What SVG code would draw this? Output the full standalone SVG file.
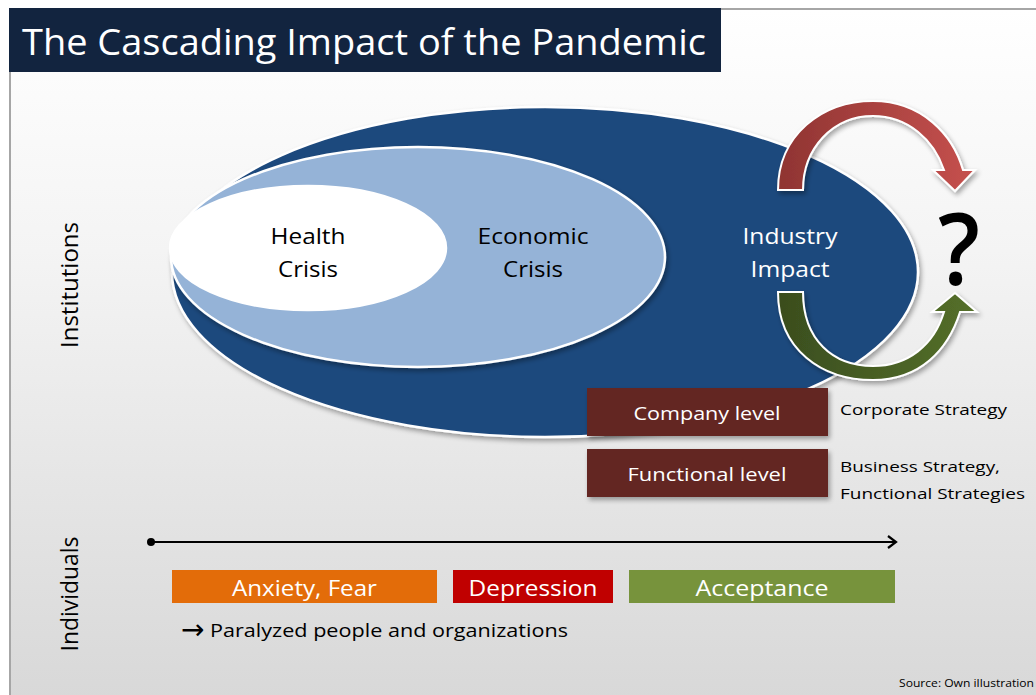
<svg xmlns="http://www.w3.org/2000/svg" width="1036" height="695" viewBox="0 0 1036 695">
<defs>
<linearGradient id="bg" x1="0" y1="0" x2="0" y2="1">
<stop offset="0" stop-color="#ffffff"/>
<stop offset="0.35" stop-color="#f4f4f4"/>
<stop offset="1" stop-color="#d8d8d8"/>
</linearGradient>
<linearGradient id="red" x1="0" y1="0" x2="1" y2="0">
<stop offset="0" stop-color="#8f3432"/>
<stop offset="1" stop-color="#c6514e"/>
</linearGradient>
<linearGradient id="green" x1="0" y1="0" x2="1" y2="0">
<stop offset="0" stop-color="#3a4d1e"/>
<stop offset="1" stop-color="#55702a"/>
</linearGradient>
<filter id="sh" x="-10%" y="-10%" width="130%" height="130%">
<feGaussianBlur in="SourceAlpha" stdDeviation="2.5"/>
<feOffset dx="2" dy="3" result="b"/>
<feComponentTransfer><feFuncA type="linear" slope="0.35"/></feComponentTransfer>
<feMerge><feMergeNode/><feMergeNode in="SourceGraphic"/></feMerge>
</filter>
<marker id="chev" markerWidth="12" markerHeight="14" refX="10" refY="7" orient="auto" markerUnits="userSpaceOnUse">
<path d="M2 1 L10 7 L2 13" fill="none" stroke="#000" stroke-width="2.2"/>
</marker>
</defs>
<style>
.t{font-family:"Open Sans","Liberation Sans",sans-serif;}
.w{fill:#ffffff;}
.k{fill:#000000;}
.ell{stroke:#ffffff;stroke-width:2.5;}
.lvl{fill:#632523;}
</style>

<!-- background frame -->
<rect x="0" y="0" width="1036" height="695" fill="#ffffff"/>
<rect x="10" y="9" width="1030" height="690" fill="url(#bg)"/>
<line x1="10" y1="9" x2="1036" y2="9" stroke="#a6a6a6" stroke-width="2"/>
<line x1="10" y1="9" x2="10" y2="695" stroke="#a6a6a6" stroke-width="2"/>

<!-- title -->
<g id="title">
<rect x="9" y="8" width="712" height="64" fill="#12243f"/>
<text class="t w" x="22" y="55" font-size="36" textLength="684" lengthAdjust="spacingAndGlyphs">The Cascading Impact of the Pandemic</text>
</g>

<!-- side labels -->
<g id="label-institutions">
<text class="t k" font-size="23" text-anchor="middle" transform="translate(78 285) rotate(-90)" textLength="126" lengthAdjust="spacingAndGlyphs">Institutions</text>
</g>
<g id="label-individuals">
<text class="t k" font-size="23" text-anchor="middle" transform="translate(78 594) rotate(-90)" textLength="115" lengthAdjust="spacingAndGlyphs">Individuals</text>
</g>

<!-- ellipses -->
<g id="industry-impact">
<ellipse class="ell" cx="545" cy="272" rx="373" ry="165" fill="#1f497d" filter="url(#sh)"/>
<text class="t w" font-size="22" text-anchor="middle" x="790" y="244" textLength="95" lengthAdjust="spacingAndGlyphs">Industry</text>
<text class="t w" font-size="22" text-anchor="middle" x="790" y="277" textLength="79" lengthAdjust="spacingAndGlyphs">Impact</text>
</g>
<g id="economic-crisis">
<ellipse class="ell" cx="418" cy="257" rx="247" ry="110" fill="#95b3d7" filter="url(#sh)"/>
<text class="t k" font-size="22" text-anchor="middle" x="533" y="244" textLength="111" lengthAdjust="spacingAndGlyphs">Economic</text>
<text class="t k" font-size="22" text-anchor="middle" x="533" y="277" textLength="60" lengthAdjust="spacingAndGlyphs">Crisis</text>
</g>
<g id="health-crisis">
<ellipse class="ell" cx="308" cy="248" rx="138" ry="62" fill="#ffffff"/>
<text class="t k" font-size="22" text-anchor="middle" x="308" y="244" textLength="75" lengthAdjust="spacingAndGlyphs">Health</text>
<text class="t k" font-size="22" text-anchor="middle" x="308" y="277" textLength="60" lengthAdjust="spacingAndGlyphs">Crisis</text>
</g>

<!-- curved arrows -->
<g id="connectors">
<path d="M778 190 C778 135 822 101 873 101 C922 101 953 135 963 170 L975 170 L955 191 L933 170 L944 170 C934 140 908 116 873 116 C833 116 803 148 803 190 Z" fill="url(#red)" stroke="#ffffff" stroke-width="2" filter="url(#sh)"/>
<path d="M778 292 C778 350 822 380 873 380 C920 380 948 350 960 312 L977 312 L955 293 L932 312 L944 312 C934 345 908 366 873 366 C833 366 803 340 803 292 Z" fill="url(#green)" stroke="#ffffff" stroke-width="2" filter="url(#sh)"/>
<line x1="151" y1="542" x2="896" y2="542" stroke="#000" stroke-width="2.2" marker-end="url(#chev)"/>
<circle cx="151" cy="542" r="4" fill="#000"/>
</g>

<g id="question">
<text class="t k" font-size="100" font-weight="600" text-anchor="middle" x="959" y="285" textLength="42" lengthAdjust="spacingAndGlyphs">?</text>
</g>

<!-- levels -->
<g id="company-level">
<rect class="lvl" x="587" y="388" width="241" height="48" filter="url(#sh)"/>
<text class="t w" font-size="19" text-anchor="middle" x="707" y="420" textLength="147" lengthAdjust="spacingAndGlyphs">Company level</text>
</g>
<g id="functional-level">
<rect class="lvl" x="587" y="449" width="241" height="48" filter="url(#sh)"/>
<text class="t w" font-size="19" text-anchor="middle" x="707" y="481" textLength="159" lengthAdjust="spacingAndGlyphs">Functional level</text>
</g>
<g id="strategy-labels">
<text class="t k" font-size="15" x="840" y="415" textLength="167" lengthAdjust="spacingAndGlyphs">Corporate Strategy</text>
<text class="t k" font-size="15" x="840" y="472" textLength="160" lengthAdjust="spacingAndGlyphs">Business Strategy,</text>
<text class="t k" font-size="15" x="840" y="499" textLength="185" lengthAdjust="spacingAndGlyphs">Functional Strategies</text>
</g>

<!-- emotions -->
<g id="anxiety">
<rect x="172" y="570" width="265" height="33" fill="#e36c09"/>
<text class="t w" font-size="22" text-anchor="middle" x="304.5" y="596" textLength="145" lengthAdjust="spacingAndGlyphs">Anxiety, Fear</text>
</g>
<g id="depression">
<rect x="453" y="570" width="160" height="33" fill="#c00000"/>
<text class="t w" font-size="22" text-anchor="middle" x="533" y="596" textLength="129" lengthAdjust="spacingAndGlyphs">Depression</text>
</g>
<g id="acceptance">
<rect x="629" y="570" width="266" height="33" fill="#77933c"/>
<text class="t w" font-size="22" text-anchor="middle" x="762" y="596" textLength="133" lengthAdjust="spacingAndGlyphs">Acceptance</text>
</g>
<g id="paralyzed">
<text class="k" font-family="'DejaVu Sans',sans-serif" font-size="28" x="181" y="639">→</text>
<text class="t k" font-size="18" x="210" y="637" textLength="358" lengthAdjust="spacingAndGlyphs">Paralyzed people and organizations</text>
</g>
<g id="source">
<text class="t k" font-size="11" x="1034" y="687" text-anchor="end" textLength="135" lengthAdjust="spacingAndGlyphs">Source: Own illustration</text>
</g>
</svg>
